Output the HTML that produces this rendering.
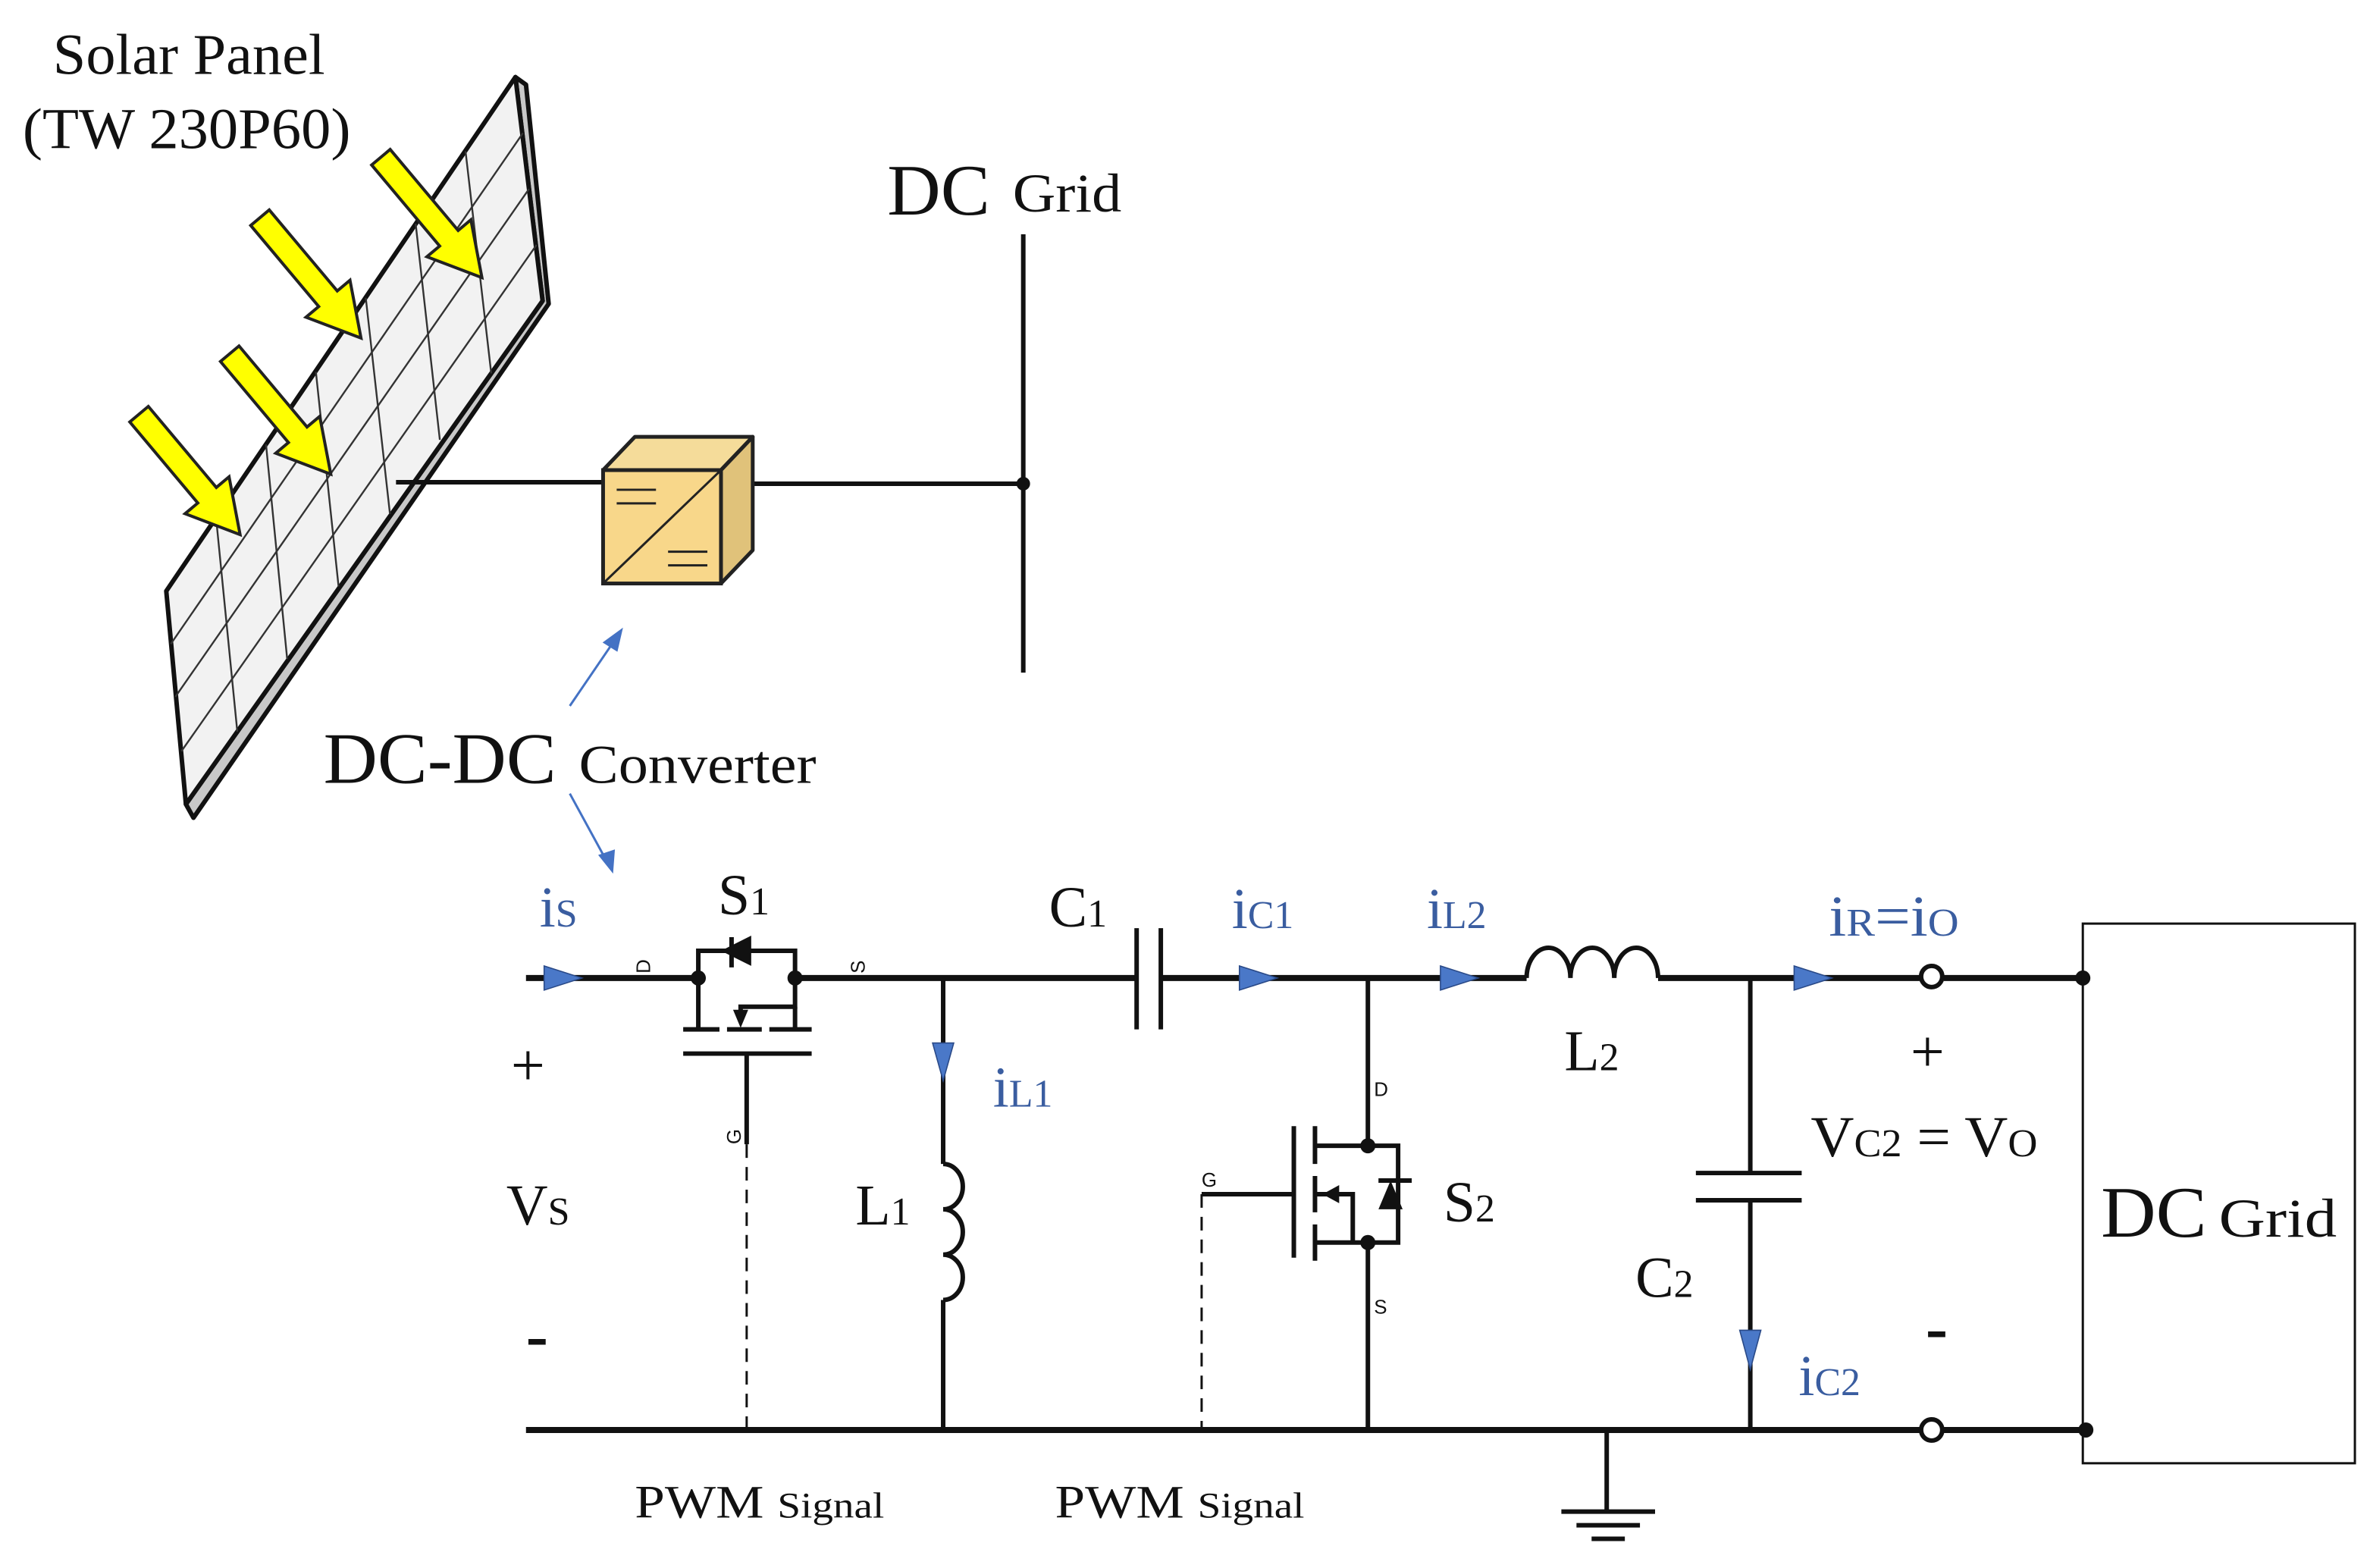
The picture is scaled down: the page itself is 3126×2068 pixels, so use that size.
<!DOCTYPE html>
<html><head><meta charset="utf-8"><style>
html,body{margin:0;padding:0;background:#fff;}
svg{display:block;}
text{font-family:"Liberation Serif",serif;fill:#111;}
.b{fill:#3a5da0;}
.s{font-family:"Liberation Sans",sans-serif;font-size:13px;}
</style></head><body>
<svg width="3126" height="2068" viewBox="0 0 1568 1037.3" preserveAspectRatio="none" xmlns="http://www.w3.org/2000/svg">
<defs>
<g id="ya"><polygon points="0,-8 70,-8 70,-19 104,0 70,19 70,8 0,8" fill="#ffff00" stroke="#222" stroke-width="2" stroke-linejoin="miter"/></g>
</defs>
<text x="35" y="49" font-size="38" textLength="180" lengthAdjust="spacingAndGlyphs">Solar Panel</text>
<text x="15" y="98" font-size="38" textLength="217" lengthAdjust="spacingAndGlyphs">(TW 230P60)</text>
<!-- panel -->
<polygon points="341,51 348,56 363,201 128,541 123,532 359,199" fill="#c8c8c8" stroke="#111" stroke-width="3" stroke-linejoin="round"/>
<polygon points="110,391 341,51 359,199 123,532" fill="#f2f2f2" stroke="#111" stroke-width="3" stroke-linejoin="round"/>
<g stroke="#333" stroke-width="1.2">
<line x1="143" y1="343" x2="157" y2="484"/>
<line x1="176" y1="294" x2="190" y2="436"/>
<line x1="209" y1="246" x2="224" y2="388"/>
<line x1="242" y1="197" x2="258" y2="340"/>
<line x1="275" y1="148" x2="291" y2="291"/>
<line x1="308" y1="100" x2="325" y2="247"/>
<line x1="113" y1="426" x2="346" y2="88"/>
<line x1="116" y1="461" x2="350" y2="125"/>
<line x1="120" y1="497" x2="355" y2="162"/>
</g>
<g transform="translate(92,274) rotate(50)"><use href="#ya"/></g>
<g transform="translate(152,234) rotate(50)"><use href="#ya"/></g>
<g transform="translate(172,144) rotate(50)"><use href="#ya"/></g>
<g transform="translate(252,104) rotate(50)"><use href="#ya"/></g>
<line x1="262" y1="319" x2="399" y2="319" stroke="#111" stroke-width="3"/>
<line x1="477" y1="320" x2="677" y2="320" stroke="#111" stroke-width="3"/>
<line x1="677" y1="155" x2="677" y2="445" stroke="#111" stroke-width="3"/>
<circle cx="677" cy="320" r="4.5" fill="#111"/>
<polygon points="399,311 420,289 498,289 477,311" fill="#f5dc9a" stroke="#222" stroke-width="2.5" stroke-linejoin="round"/>
<polygon points="477,311 498,289 498,364 477,386" fill="#e0c27a" stroke="#222" stroke-width="2.5" stroke-linejoin="round"/>
<rect x="399" y="311" width="78" height="75" fill="#f8d78a" stroke="#222" stroke-width="2.5"/>
<line x1="399" y1="386" x2="477" y2="311" stroke="#222" stroke-width="1.5"/>
<line x1="408" y1="324" x2="434" y2="324" stroke="#222" stroke-width="1.5"/>
<line x1="408" y1="333" x2="434" y2="333" stroke="#222" stroke-width="1.5"/>
<line x1="442" y1="365" x2="468" y2="365" stroke="#222" stroke-width="1.5"/>
<line x1="442" y1="374" x2="468" y2="374" stroke="#222" stroke-width="1.5"/>
<text x="587" y="142" font-size="48" textLength="68" lengthAdjust="spacingAndGlyphs">DC</text>
<text x="670" y="140" font-size="36" textLength="72" lengthAdjust="spacingAndGlyphs">Grid</text>
<g stroke="#4472c4" stroke-width="1.5" fill="#4472c4">
<line x1="377" y1="467" x2="407" y2="423"/><polygon points="411,417 400,425 408,430"/>
<line x1="377" y1="525" x2="401" y2="569"/><polygon points="405,576 397,566 406,563"/>
</g>
<text x="214" y="518" font-size="48" textLength="154" lengthAdjust="spacingAndGlyphs">DC-DC</text>
<text x="383" y="518" font-size="36" textLength="157" lengthAdjust="spacingAndGlyphs">Converter</text>

<g stroke="#111" stroke-width="4" fill="none">
<line x1="348" y1="647" x2="462" y2="647"/>
<line x1="526" y1="647" x2="752" y2="647"/>
<line x1="768" y1="647" x2="1010" y2="647"/>
<line x1="1097" y1="647" x2="1270" y2="647"/>
<line x1="1286" y1="647" x2="1378" y2="647"/>
<line x1="348" y1="946" x2="1270" y2="946"/>
<line x1="1286" y1="946" x2="1378" y2="946"/>
</g>
<g stroke="#111" stroke-width="3" fill="none">
<polyline points="462,647 462,629 526,629 526,647"/>
<line x1="462" y1="647" x2="462" y2="680"/>
<polyline points="526,647 526,666 490,666 490,676"/>
<line x1="526" y1="666" x2="526" y2="680"/>
<line x1="452" y1="681" x2="476" y2="681"/>
<line x1="481" y1="681" x2="504" y2="681"/>
<line x1="509" y1="681" x2="537" y2="681"/>
<line x1="452" y1="697" x2="537" y2="697"/>
<line x1="494" y1="697" x2="494" y2="757"/>
<line x1="484" y1="620" x2="484" y2="640"/>
<line x1="624" y1="647" x2="624" y2="770"/>
<path d="M624,770 a13,15 0 0 1 0,30 a13,15 0 0 1 0,30 a13,15 0 0 1 0,30"/>
<line x1="624" y1="860" x2="624" y2="946"/>
<line x1="752" y1="614" x2="752" y2="681"/>
<line x1="768" y1="614" x2="768" y2="681"/>
<line x1="905" y1="647" x2="905" y2="758"/>
<line x1="905" y1="822" x2="905" y2="946"/>
<polyline points="870,758 925,758 925,822 870,822"/>
<polyline points="870,790 895,790 895,822"/>
<line x1="856" y1="745" x2="856" y2="832"/>
<line x1="870" y1="745" x2="870" y2="770"/>
<line x1="870" y1="778" x2="870" y2="802"/>
<line x1="870" y1="810" x2="870" y2="834"/>
<line x1="795" y1="790" x2="856" y2="790"/>
<line x1="912" y1="781" x2="934" y2="781"/>
<path d="M1010,647 a14.5,20 0 0 1 29,0 a14.5,20 0 0 1 29,0 a14.5,20 0 0 1 29,0"/>
<line x1="1158" y1="647" x2="1158" y2="776"/>
<line x1="1158" y1="794" x2="1158" y2="946"/>
<line x1="1122" y1="776" x2="1192" y2="776"/>
<line x1="1122" y1="794" x2="1192" y2="794"/>
<line x1="1063" y1="946" x2="1063" y2="1000"/>
<line x1="1033" y1="1000" x2="1095" y2="1000"/>
<line x1="1043" y1="1009" x2="1085" y2="1009"/>
<line x1="1053" y1="1018" x2="1075" y2="1018"/>
</g>
<g fill="#111">
<circle cx="462" cy="647" r="5"/><circle cx="526" cy="647" r="5"/>
<polygon points="477,629 497,619 497,639"/>
<polygon points="490,680 485,668 495,668"/>
<circle cx="905" cy="758" r="5"/><circle cx="905" cy="822" r="5"/>
<polygon points="920,781 912,800 928,800"/>
<polygon points="875,790 886,784 886,796"/>
<circle cx="1378" cy="647" r="5"/><circle cx="1380" cy="946" r="5"/>
</g>
<g stroke="#111" stroke-width="1.5" stroke-dasharray="9,6">
<line x1="494" y1="757" x2="494" y2="945"/>
<line x1="795" y1="790" x2="795" y2="945"/>
</g>
<circle cx="1278" cy="646" r="7" fill="#fff" stroke="#111" stroke-width="3"/>
<circle cx="1278" cy="946" r="7" fill="#fff" stroke="#111" stroke-width="3"/>
<rect x="1378" y="611" width="180" height="357" fill="none" stroke="#111" stroke-width="1.5"/>
<g fill="#4a78c8" stroke="#2a4a88" stroke-width="0.8">
<polygon points="360,639 360,655 385,647"/>
<polygon points="820,639 820,655 845,647"/>
<polygon points="953,639 953,655 978,647"/>
<polygon points="1187,639 1187,655 1212,647"/>
<polygon points="617,690 631,690 624,715"/>
<polygon points="1151,880 1165,880 1158,906"/>
</g>
<text class="s" transform="translate(430,644) rotate(-90)">D</text>
<text class="s" transform="translate(572,644) rotate(-90)">S</text>
<text class="s" transform="translate(490,757) rotate(-90)">G</text>
<text class="s" x="909" y="725">D</text>
<text class="s" x="909" y="869">S</text>
<text class="s" x="795" y="785">G</text>
<text x="475" y="605" font-size="38">S<tspan font-size="26">1</tspan></text>
<text x="694" y="613" font-size="38">C<tspan font-size="26">1</tspan></text>
<text x="566" y="810" font-size="38">L<tspan font-size="26">1</tspan></text>
<text x="1035" y="708" font-size="38">L<tspan font-size="26">2</tspan></text>
<text x="1082" y="858" font-size="38">C<tspan font-size="26">2</tspan></text>
<text x="955" y="808" font-size="38">S<tspan font-size="26">2</tspan></text>
<text x="338" y="718" font-size="40">+</text>
<text x="335" y="810" font-size="38">V<tspan font-size="26">S</tspan></text>
<text x="348" y="898" font-size="44" font-weight="bold">-</text>
<text x="1264" y="709" font-size="40">+</text>
<text x="1198" y="765" font-size="38" textLength="150" lengthAdjust="spacingAndGlyphs">V<tspan font-size="26">C2</tspan> = V<tspan font-size="26">O</tspan></text>
<text x="1274" y="893" font-size="44" font-weight="bold">-</text>
<text x="1390" y="818" font-size="48" textLength="70" lengthAdjust="spacingAndGlyphs">DC</text>
<text x="1468" y="818" font-size="36" textLength="78" lengthAdjust="spacingAndGlyphs">Grid</text>
<text x="420" y="1004" font-size="31" textLength="165" lengthAdjust="spacingAndGlyphs">PWM <tspan font-size="24">Signal</tspan></text>
<text x="698" y="1004" font-size="31" textLength="165" lengthAdjust="spacingAndGlyphs">PWM <tspan font-size="24">Signal</tspan></text>
<text class="b" x="357" y="613" font-size="38">i<tspan font-size="26">S</tspan></text>
<text class="b" x="815" y="614" font-size="38">i<tspan font-size="26">C1</tspan></text>
<text class="b" x="944" y="614" font-size="38">i<tspan font-size="26">L2</tspan></text>
<text class="b" x="1210" y="619" font-size="38" textLength="86" lengthAdjust="spacingAndGlyphs">i<tspan font-size="26">R</tspan>=i<tspan font-size="26">O</tspan></text>
<text class="b" x="657" y="732" font-size="38">i<tspan font-size="26">L1</tspan></text>
<text class="b" x="1190" y="923" font-size="38">i<tspan font-size="26">C2</tspan></text>
</svg>
</body></html>
